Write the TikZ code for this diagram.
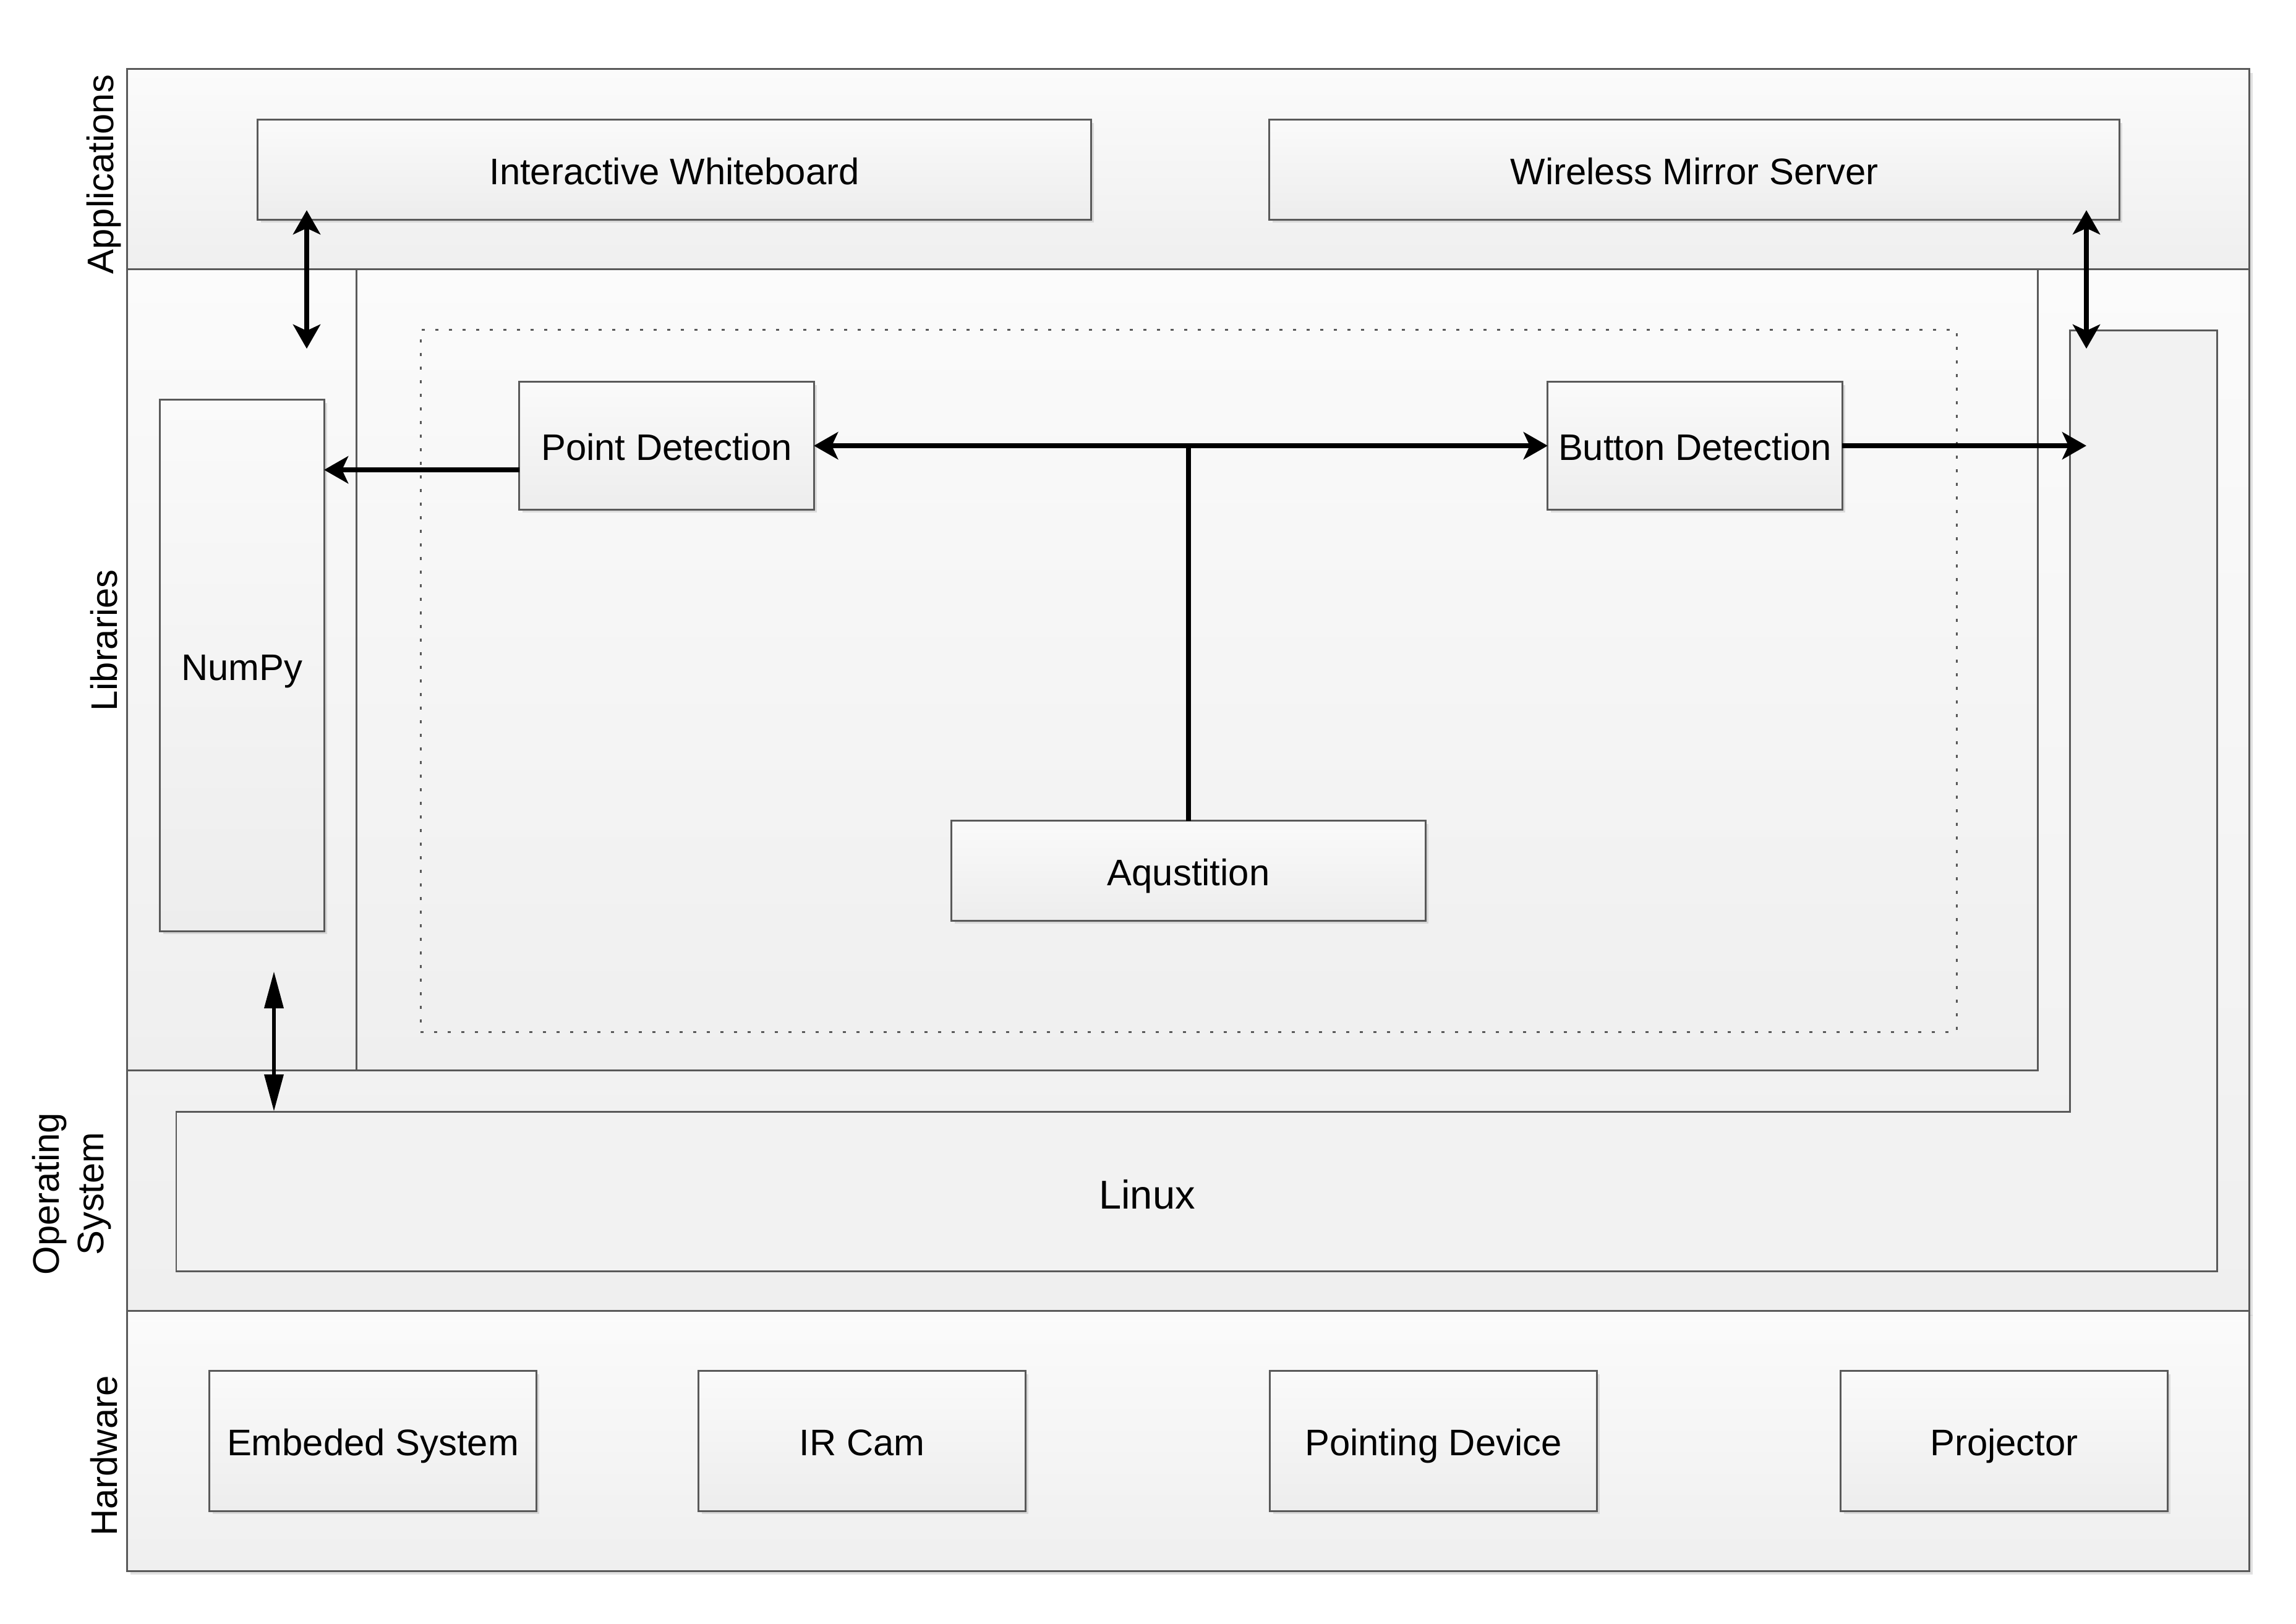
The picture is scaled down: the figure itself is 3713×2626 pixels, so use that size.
\documentclass[tikz,border=0pt]{standalone}
\usepackage{fontspec}
\setmainfont{Liberation Sans}
\usetikzlibrary{arrows.meta,shadows}
\definecolor{edgegray}{HTML}{595959}
\definecolor{bandtop}{HTML}{FBFBFB}
\definecolor{bandbot}{HTML}{EFEFEF}
\definecolor{boxtop}{HTML}{FAFAFA}
\definecolor{boxbot}{HTML}{EDEDED}
\definecolor{osfill}{HTML}{F2F2F2}
\tikzset{
  layer/.style={draw=edgegray,line width=0.85pt,top color=bandtop,bottom color=bandbot,inner sep=0pt,outer sep=0pt},
  outerlayer/.style={layer,drop shadow={shadow xshift=0.06cm,shadow yshift=-0.06cm,fill=black!30,opacity=0.4}},
  block/.style={draw=edgegray,line width=0.85pt,top color=boxtop,bottom color=boxbot,inner sep=0pt,outer sep=0pt,
    text height=13.5pt,text depth=0pt,font=\fontsize{17}{20.5}\selectfont,
    drop shadow={shadow xshift=0.05cm,shadow yshift=-0.05cm,fill=black!30,opacity=0.4}},
  layername/.style={rotate=90,align=center,font=\fontsize{17}{20.5}\selectfont},
  grouping/.style={draw=edgegray,line width=0.85pt,dash pattern=on 0.05cm off 0.17cm,inner sep=0pt,outer sep=0pt},
  oslayer/.style={draw=edgegray,line width=0.85pt,fill=osfill},
  twoway/.style={line width=2.3pt,{Stealth[length=3.9mm,width=4.4mm,inset=1mm]}-{Stealth[length=3.9mm,width=4.4mm,inset=1mm]}},
  oneway/.style={line width=2.3pt,-{Stealth[length=3.9mm,width=4.4mm,inset=1mm]}},
  syslink/.style={line width=1.9pt,{Triangle[length=6mm,width=3mm]}-{Triangle[length=6mm,width=3mm]}}
}
\begin{document}
\begin{tikzpicture}[x=0.01cm,y=-0.01cm]
\path[use as bounding box,fill=white] (0,0) rectangle (3713,2626);
\node[outerlayer,minimum width=34.30cm,minimum height=3.24cm] (appband) at (1921,274) {};
\node[outerlayer,minimum width=34.30cm,minimum height=16.85cm] (osband) at (1921,1278.5) {};
\node[outerlayer,minimum width=34.30cm,minimum height=4.20cm] (hwband) at (1921,2331) {};
\node[layer,minimum width=30.89cm,minimum height=12.95cm] (libband) at (1750.5,1083.5) {};
\node[layer,minimum width=27.18cm,minimum height=12.95cm] (libinner) at (1936,1083.5) {};
\node[grouping,minimum width=24.83cm,minimum height=11.35cm] (detection) at (1922.5,1101.5) {};
\coordinate (linuxnw) at (285,1798);
\draw[oslayer] (linuxnw) -- (3347,1798) -- (3347,534) -- (3585,534) -- (3585,2056) -- (285,2056) -- cycle;
\node[font=\fontsize{18.5}{22}\selectfont] (linux) at (1855,1932) {Linux};
\node[layername] (appname) at (168,282) {Applications};
\node[layername] (libname) at (168,1036) {Libraries};
\node[layername] (osname) at (116,1931) {Operating\\System};
\node[layername] (hwname) at (168,2355) {Hardware};
\node[block,minimum width=13.47cm,minimum height=1.61cm] (iw) at (1090.5,274.5) {Interactive Whiteboard};
\node[block,minimum width=13.74cm,minimum height=1.61cm] (wms) at (2740,274.5) {Wireless Mirror Server};
\node[block,minimum width=2.65cm,minimum height=8.59cm] (numpy) at (391.5,1076.5) {NumPy};
\node[block,minimum width=4.76cm,minimum height=2.06cm] (pd) at (1078,721) {Point Detection};
\node[block,minimum width=4.76cm,minimum height=2.06cm] (bd) at (2741,721) {Button Detection};
\node[block,minimum width=7.66cm,minimum height=1.61cm] (aq) at (1922,1408.5) {Aqustition};
\node[block,minimum width=5.28cm,minimum height=2.26cm] (embedded) at (603,2331) {Embeded System};
\node[block,minimum width=5.28cm,minimum height=2.26cm] (ircam) at (1394,2331) {IR Cam};
\node[block,minimum width=5.28cm,minimum height=2.26cm] (pointer) at (2318,2331) {Pointing Device};
\node[block,minimum width=5.28cm,minimum height=2.26cm] (projector) at (3241,2331) {Projector};
\coordinate (iwend) at (496,564);
\coordinate (wmsend) at (3374,564);
\coordinate (pdrow) at (0,760);
\coordinate (bdend) at (3374,721);
\coordinate (npend) at (443,1571);
\draw[twoway,shorten <=-0.15cm] (iw.south -| iwend) -- (iwend);
\draw[twoway,shorten <=-0.15cm] (wms.south -| wmsend) -- (wmsend);
\draw[oneway] (pd.west |- pdrow) -- (numpy.east |- pdrow);
\draw[twoway] (pd.east) -- (bd.west);
\draw[line width=2.3pt] (aq.north) -- (aq.north |- pd.east);
\draw[oneway] (bd.east) -- (bdend);
\draw[syslink] (npend) -- (npend |- linuxnw);
\end{tikzpicture}
\end{document}
